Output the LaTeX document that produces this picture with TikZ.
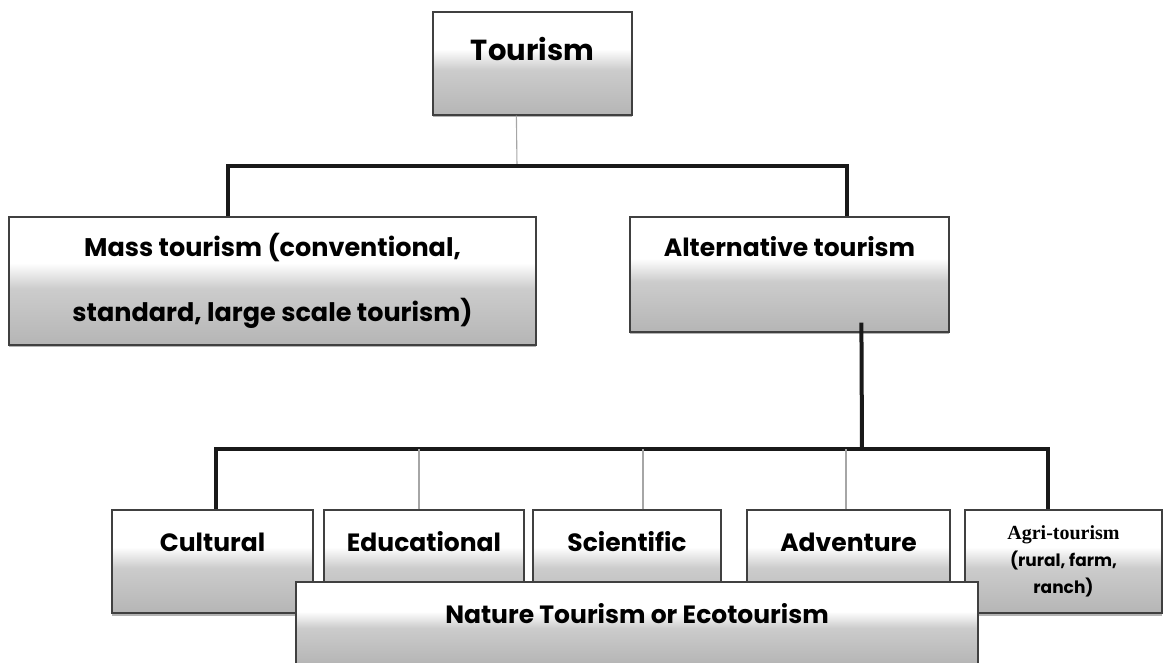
\documentclass[tikz,border=0pt]{standalone}
\usepackage{fontspec}
\setmainfont{Poppins}
\newfontfamily\agrifont{Liberation Serif}
\usetikzlibrary{positioning,shadows}

\pgfdeclareverticalshading{boxfade}{100bp}{color(0bp)=(gray!58); color(25bp)=(gray!58); color(47bp)=(gray!40); color(57bp)=(white); color(100bp)=(white)}

\tikzset{
  box/.style={draw=black!75, line width=1.2pt, shade, shading=boxfade, inner sep=0pt,
    font=\bfseries\fontsize{25}{28}\selectfont,
    drop shadow={shadow xshift=0pt, shadow yshift=-2.5pt, fill=gray, opacity=.6}},
  heavy/.style={line width=4pt, black!90},
  light/.style={line width=1.1pt, gray!70},
}

\begin{document}
\begin{tikzpicture}[x=1pt, y=-1pt]
	\useasboundingbox (0,0) rectangle (1163,663);
	\node[box, minimum width=199pt, text height=48.5pt, text depth=54.5pt, font=\bfseries\fontsize{29}{34}\selectfont] (tourism) at (532.5,63.5) {Tourism};
	\node[box, minimum width=527pt, minimum height=128pt, align=center, font=\bfseries\fontsize{25.5}{65}\selectfont] (mass) at (272.5,281) {Mass tourism (conventional,\\standard, large scale tourism)};
	\node[box, minimum width=319pt, text height=40pt, text depth=75pt] (alt) at (789.5,274.5) {Alternative tourism};
	\node[box, minimum width=201pt, text height=41pt, text depth=62pt] (cultural) at (212.5,561.5) {Cultural};
	\node[box, minimum width=200pt, text height=41pt, text depth=62pt] (educational) at (424,561.5) {Educational};
	\node[box, minimum width=188pt, text height=41pt, text depth=62pt] (scientific) at (627,561.5) {Scientific};
	\node[box, minimum width=203pt, text height=41pt, text depth=62pt] (adventure) at (848.5,561.5) {Adventure};
	\node[box, minimum width=197pt, minimum height=103pt, align=center, font=\bfseries\fontsize{17}{27}\selectfont] (agri) at (1063.5,561.5) {{\agrifont\fontsize{20}{27}\selectfont Agri-tourism}\\(rural, farm,\\ranch)};
	\node[box, minimum width=682pt, text height=41pt, text depth=41pt] (nature) at (637,623) {Nature Tourism or Ecotourism};
	% branching points
	\coordinate (upper) at (517,166);
	\coordinate (lower) at (862,449);
	\draw[light] ([xshift=84pt]tourism.south west) -- (upper);
	\draw[heavy] ([xshift=220pt]mass.north west) |- (upper) -| ([xshift=218pt]alt.north west);
	\draw[heavy] ([xshift=232pt,yshift=10pt]alt.south west) -- (lower);
	\draw[heavy] ([xshift=105pt]cultural.north west) |- (lower) -| ([xshift=84pt]agri.north west);
	\draw[light] ([xshift=-5pt]educational.north) -- ([xshift=-5pt]educational.north |- lower);
	\draw[light] ([xshift=16pt]scientific.north) -- ([xshift=16pt]scientific.north |- lower);
	\draw[light] ([xshift=-2.5pt]adventure.north) -- ([xshift=-2.5pt]adventure.north |- lower);
\end{tikzpicture}
\end{document}
